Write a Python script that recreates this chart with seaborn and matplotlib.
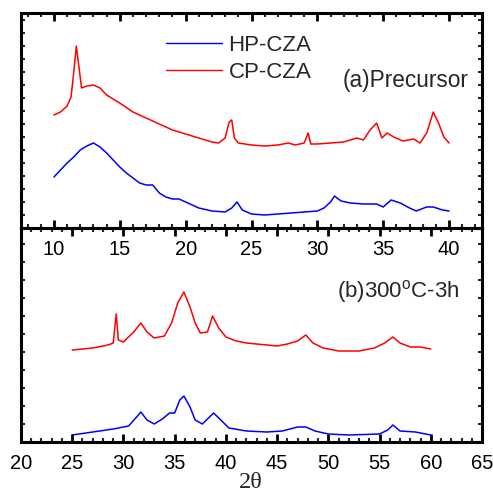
import matplotlib
matplotlib.use("Agg")
import matplotlib.pyplot as plt
from matplotlib.ticker import MultipleLocator, NullFormatter
import seaborn as sns
import pandas as pd

# ---------------- data (arbitrary intensity units) ----------------
a_red_x = [10.0, 10.5, 11.0, 11.3, 11.5, 11.7, 11.9, 12.1, 12.5, 13.0, 13.5, 14.0, 15.0, 16.0,
           17.0, 18.0, 19.0, 20.0, 21.0, 22.0, 22.5, 23.0, 23.3, 23.5, 23.7, 24.0, 25.0, 26.0,
           27.0, 27.8, 28.3, 29.0, 29.3, 29.5, 30.0, 31.0, 32.0, 33.0, 33.5, 34.0, 34.5, 34.9,
           35.3, 35.8, 36.5, 37.3, 37.8, 38.3, 38.8, 39.2, 39.6, 40.0]
a_red_y = [113, 116, 122, 131, 155, 182, 161, 140, 142, 143, 140, 133, 125, 116,
           110, 104, 98, 94, 90, 86, 85, 90, 106, 108, 90, 85, 83, 82,
           83, 85, 83, 85, 95, 84, 84, 85, 86, 90, 88, 98, 105, 90,
           95, 91, 87, 89, 85, 95, 116, 105, 91, 85]

a_blue_x = [10.0, 10.5, 11.0, 11.5, 12.0, 12.5, 13.0, 13.5, 14.0, 14.5, 15.0, 15.5, 16.0, 16.5,
            17.0, 17.5, 18.0, 18.5, 19.0, 19.5, 20.0, 20.5, 21.0, 22.0, 23.0, 23.5, 23.9, 24.3,
            25.0, 26.0, 27.0, 28.0, 29.0, 30.0, 30.5, 31.0, 31.3, 31.8, 32.5, 33.5, 34.5, 35.0,
            35.6, 36.3, 37.0, 37.5, 38.3, 38.8, 39.5, 40.0]
a_blue_y = [51, 58, 65, 71, 78, 82, 85, 81, 75, 68, 61, 55, 50, 45,
            43, 43, 35, 31, 29, 29, 26, 23, 20, 17, 16, 20, 26, 18,
            14, 13, 14, 15, 16, 17, 20, 26, 32, 27, 25, 24, 24, 21,
            28, 25, 20, 17, 21, 21, 18, 17]

b_red_x = [25.0, 27.0, 28.5, 29.0, 29.3, 29.5, 30.0, 31.0, 31.7, 32.3, 33.0, 34.0, 34.7, 35.3,
           35.9, 36.5, 37.0, 37.5, 38.2, 38.7, 39.3, 40.0, 41.0, 42.0, 44.0, 45.0, 46.0, 47.0,
           47.8, 48.5, 49.5, 51.0, 53.0, 54.5, 55.5, 56.3, 57.0, 58.0, 59.0, 60.0]
b_red_y = [92, 94, 97, 99, 128, 102, 100, 110, 119, 110, 104, 106, 119, 139,
           150, 135, 119, 109, 110, 126, 114, 105, 101, 99, 97, 96, 98, 101,
           107, 99, 94, 91, 91, 94, 99, 105, 99, 95, 95, 93]

b_blue_x = [25.0, 27.0, 29.0, 30.5, 31.2, 31.7, 32.3, 33.0, 33.8, 34.5, 35.0, 35.5, 35.9, 36.5,
            37.0, 37.7, 38.3, 38.8, 39.5, 40.3, 42.0, 44.0, 45.5, 47.0, 47.8, 48.7, 50.0, 52.0,
            55.0, 55.8, 56.3, 57.0, 58.5, 60.0]
b_blue_y = [7, 10, 13, 16, 24, 30, 22, 18, 23, 29, 29, 42, 46, 35,
            22, 18, 24, 29, 22, 14, 11, 10, 11, 15, 15, 11, 8, 7,
            8, 12, 17, 11, 10, 7]

labels = ["HP-CZA", "CP-CZA"]
colors = ["#0000ff", "#ff0000"]
panel_a_ticks = [10, 15, 20, 25, 30, 35, 40]
panel_b_ticks = [20, 25, 30, 35, 40, 45, 50, 55, 60, 65]

# ---------------- figure ----------------
sns.set_style("ticks")
plt.rcParams["font.family"] = ["Liberation Sans", "DejaVu Sans"]

fig = plt.figure(figsize=(4.93, 4.91), dpi=100)
W, H = 493, 491
ax1 = fig.add_axes([21 / W, (H - 228) / H, 461 / W, 215 / H])
ax2 = fig.add_axes([21 / W, (H - 442) / H, 461 / W, 214 / H])
ax2.patch.set_visible(False)

dfa_b = pd.DataFrame({"x": a_blue_x, "y": a_blue_y})
dfa_r = pd.DataFrame({"x": a_red_x, "y": a_red_y})
dfb_b = pd.DataFrame({"x": b_blue_x, "y": b_blue_y})
dfb_r = pd.DataFrame({"x": b_red_x, "y": b_red_y})

sns.lineplot(data=dfa_b, x="x", y="y", ax=ax1, color=colors[0], lw=1.1, label=labels[0])
sns.lineplot(data=dfa_r, x="x", y="y", ax=ax1, color=colors[1], lw=1.1, label=labels[1])
sns.lineplot(data=dfb_b, x="x", y="y", ax=ax2, color=colors[0], lw=1.1, legend=False)
sns.lineplot(data=dfb_r, x="x", y="y", ax=ax2, color=colors[1], lw=1.1, legend=False)

ax1.set_xlim(7.5, 42.5)
ax1.set_ylim(0, 215)
ax2.set_xlim(20, 65)
ax2.set_ylim(0, 214)

ax1.set_xticks(panel_a_ticks)
ax1.set_xticklabels([str(t) for t in panel_a_ticks])
ax2.set_xticks(panel_b_ticks)
ax2.set_xticklabels([str(t) for t in panel_b_ticks])

for ax, ystep in ((ax1, 13), (ax2, 18)):
    ax.xaxis.set_minor_locator(MultipleLocator(1))
    ax.yaxis.set_major_locator(MultipleLocator(ystep))
    ax.yaxis.set_major_formatter(NullFormatter())
    ax.tick_params(axis="x", which="major", direction="in", length=6, width=2,
                   top=True, bottom=True, labelsize=14.5, pad=8.5, colors="black")
    ax.tick_params(axis="x", which="minor", direction="in", length=3, width=1.5,
                   top=True, bottom=True)
    ax.tick_params(axis="y", which="major", direction="in", length=3, width=1.5,
                   left=True, right=True, labelleft=False)
    for s in ax.spines.values():
        s.set_linewidth(2.2)
        s.set_color("black")
        s.set_visible(True)
    ax.set_ylabel("")
    ax.set_xlabel("")

fig.text(250.5 / W, (H - 482) / H, "2θ", family=["Liberation Serif", "DejaVu Serif"],
         fontsize=17.5, ha="center", va="center")

ax1.text(0.970, 0.688, "(a)Precursor", transform=ax1.transAxes, ha="right", va="center",
         fontsize=16.3)
ax2.text(0.952, 0.705, "(b)300$^{\\mathregular{o}}$C-3h", transform=ax2.transAxes,
         ha="right", va="center", fontsize=16)

leg = ax1.legend(loc="upper left", bbox_to_anchor=(0.272, 0.99), frameon=False,
                 fontsize=16, handlelength=2.5, handletextpad=0.3, labelspacing=0.25)
for line in leg.get_lines():
    line.set_linewidth(1.0)

fig.savefig("out.png", dpi=100)
